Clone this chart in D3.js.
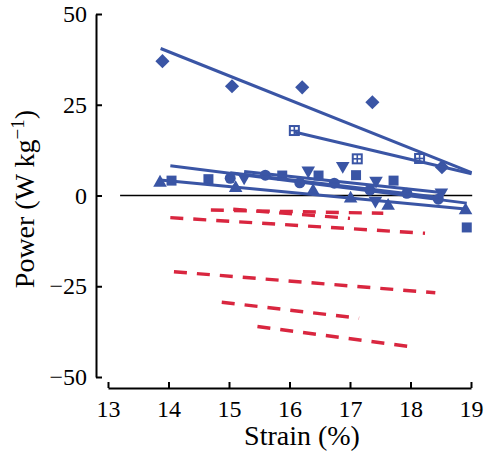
<!DOCTYPE html>
<html>
<head>
<meta charset="utf-8">
<script src="https://cdn.jsdelivr.net/npm/d3@7"></script>
<style>
  html, body { margin: 0; padding: 0; background: #fff; }
  svg { display: block; }
</style>
</head>
<body>
<svg id="chart" width="487" height="452"></svg>
<script>
// ---- Data ----
const xTicks = [13, 14, 15, 16, 17, 18, 19];
const yTicks = [-50, -25, 0, 25, 50];

// Blue series: points
const diamondX = [13.90, 15.05, 16.21, 17.37, 18.52];
const diamondY = [37.0, 30.1, 29.8, 25.7, 7.8];
const crossSqX = [16.08, 17.12, 18.15];
const crossSqY = [17.9, 10.1, 10.2];
const squareX = [14.05, 14.66, 15.88, 16.48, 17.10, 17.72, 18.93];
const squareY = [4.1, 4.5, 5.5, 5.5, 5.6, 4.1, -8.8];
const circleX = [15.02, 15.60, 16.17, 16.74, 17.33, 17.94, 18.46];
const circleY = [4.75, 5.6, 3.5, 3.4, 1.5, 0.6, -1.0];
const triUpX = [13.86, 15.11, 16.39, 17.01, 17.63, 18.91];
const triUpY = [3.8, 2.3, 1.5, -0.6, -2.6, -3.8];
const triDownX = [15.25, 16.31, 16.88, 17.43, 17.42, 18.51];
const triDownY = [4.7, 6.6, 7.9, 3.8, -1.7, 0.6];

// Blue fitted lines: [start, end]
const diamondFitX = [13.87, 19.01];
const diamondFitY = [40.5, 6.3];
const crossSqFitX = [16.08, 19.01];
const crossSqFitY = [17.5, 6.0];
const squareFitX = [14.03, 18.93];
const squareFitY = [8.2, -2.1];
const circleFitX = [15.02, 18.46];
const circleFitY = [6.3, -0.5];
const triUpFitX = [13.86, 18.91];
const triUpFitY = [4.3, -3.7];
const triDownFitX = [15.25, 18.51];
const triDownFitY = [6.6, 0.8];

// Red dashed lines: start and end
const redX1 = [14.70, 15.07, 14.03, 14.09, 14.88, 15.47];
const redY1 = [-4.0, -3.8, -6.1, -21.0, -29.4, -36.1];
const redX2 = [17.55, 17.00, 18.24, 18.41, 17.15, 17.98];
const redY2 = [-4.9, -6.3, -10.4, -26.8, -33.8, -41.6];

// Zero reference line
const zeroLineX = [13.2, 19.02];

// ---- Drawing ----
const FONT = "'Liberation Serif'";
const blue = "#3a55a5";
const red = "#d9263f";
const svg = d3.select("#chart");

const x = d3.scaleLinear().domain([13, 19]).range([108, 471]);
const y = d3.scaleLinear().domain([-50, 50]).range([377, 14]);

const fmt = d3.format("d");

// Y axis
const yAxis = svg.append("g")
  .attr("transform", "translate(96,0)")
  .call(d3.axisLeft(y).tickValues(yTicks).tickSize(-6).tickSizeOuter(0).tickPadding(9).tickFormat(fmt));
// X axis
const xAxis = svg.append("g")
  .attr("transform", "translate(0,388)")
  .call(d3.axisBottom(x).tickValues(xTicks).tickSize(-6).tickSizeOuter(0).tickPadding(12).tickFormat(fmt));

[yAxis, xAxis].forEach(g => {
  g.attr("font-family", null).style("font-family", FONT);
  g.select(".domain").attr("stroke", "#000").attr("stroke-width", 2);
  g.selectAll(".tick line").attr("stroke", "#000").attr("stroke-width", 2);
  g.selectAll(".tick text").attr("font-size", 24).style("font-family", FONT).attr("fill", "#000");
});

// Axis titles
svg.append("text")
  .attr("x", 302).attr("y", 445)
  .attr("text-anchor", "middle")
  .attr("font-size", 28)
  .style("font-family", FONT)
  .text("Strain (%)");

const yt = svg.append("text")
  .attr("transform", "translate(34,199) rotate(-90)")
  .attr("text-anchor", "middle")
  .attr("font-size", 28)
  .style("font-family", FONT);
yt.append("tspan").text("Power (W kg");
yt.append("tspan").attr("dy", -10).attr("font-size", 19).text("\u22121");
yt.append("tspan").attr("dy", 10).text(")");

// Zero line
svg.append("line")
  .attr("x1", x(zeroLineX[0])).attr("x2", x(zeroLineX[1]))
  .attr("y1", y(0)).attr("y2", y(0))
  .attr("stroke", "#000").attr("stroke-width", 1.6);

// Red dashed lines
const redData = redX1.map((v, i) => ({x1: v, y1: redY1[i], x2: redX2[i], y2: redY2[i]}));
svg.append("g").selectAll("line").data(redData).join("line")
  .attr("x1", d => x(d.x1)).attr("y1", d => y(d.y1))
  .attr("x2", d => x(d.x2)).attr("y2", d => y(d.y2))
  .attr("stroke", red).attr("stroke-width", 3.4)
  .attr("stroke-dasharray", "13,10");

// Blue series definitions
const series = [
  {xs: triUpX, ys: triUpY, fx: triUpFitX, fy: triUpFitY, type: "triUp"},
  {xs: squareX, ys: squareY, fx: squareFitX, fy: squareFitY, type: "square"},
  {xs: circleX, ys: circleY, fx: circleFitX, fy: circleFitY, type: "circle"},
  {xs: triDownX, ys: triDownY, fx: triDownFitX, fy: triDownFitY, type: "triDown"},
  {xs: crossSqX, ys: crossSqY, fx: crossSqFitX, fy: crossSqFitY, type: "crossSq"},
  {xs: diamondX, ys: diamondY, fx: diamondFitX, fy: diamondFitY, type: "diamond"}
];

const markG = svg.append("g");
const lineG = svg.append("g");

series.forEach(s => {
  const pts = s.xs.map((v, i) => ({x: v, y: s.ys[i]}));
  const g = markG.append("g");
  pts.forEach(p => {
    const px = x(p.x), py = y(p.y);
    if (s.type === "diamond") {
      g.append("path").attr("d", d3.symbol(d3.symbolSquare, 100)())
        .attr("transform", `translate(${px},${py}) rotate(45)`).attr("fill", blue);
    } else if (s.type === "square") {
      g.append("path").attr("d", d3.symbol(d3.symbolSquare, 100)())
        .attr("transform", `translate(${px},${py})`).attr("fill", blue);
    } else if (s.type === "circle") {
      g.append("path").attr("d", d3.symbol(d3.symbolCircle, 95)())
        .attr("transform", `translate(${px},${py})`).attr("fill", blue);
    } else if (s.type === "triUp") {
      g.append("path").attr("d", d3.symbol(d3.symbolTriangle, 80)())
        .attr("transform", `translate(${px},${py + 1})`).attr("fill", blue);
    } else if (s.type === "triDown") {
      g.append("path").attr("d", d3.symbol(d3.symbolTriangle, 80)())
        .attr("transform", `translate(${px},${py - 1}) rotate(180)`).attr("fill", blue);
    } else if (s.type === "crossSq") {
      const h = 4.5;
      g.append("rect").attr("x", px - h).attr("y", py - h).attr("width", 2 * h).attr("height", 2 * h)
        .attr("fill", "#fff").attr("stroke", blue).attr("stroke-width", 2);
      g.append("line").attr("x1", px - h).attr("x2", px + h).attr("y1", py).attr("y2", py)
        .attr("stroke", blue).attr("stroke-width", 1.6);
      g.append("line").attr("x1", px).attr("x2", px).attr("y1", py - h).attr("y2", py + h)
        .attr("stroke", blue).attr("stroke-width", 1.6);
    }
  });
  lineG.append("line")
    .attr("x1", x(s.fx[0])).attr("y1", y(s.fy[0]))
    .attr("x2", x(s.fx[1])).attr("y2", y(s.fy[1]))
    .attr("stroke", blue).attr("stroke-width", 3);
});
</script>
</body>
</html>
